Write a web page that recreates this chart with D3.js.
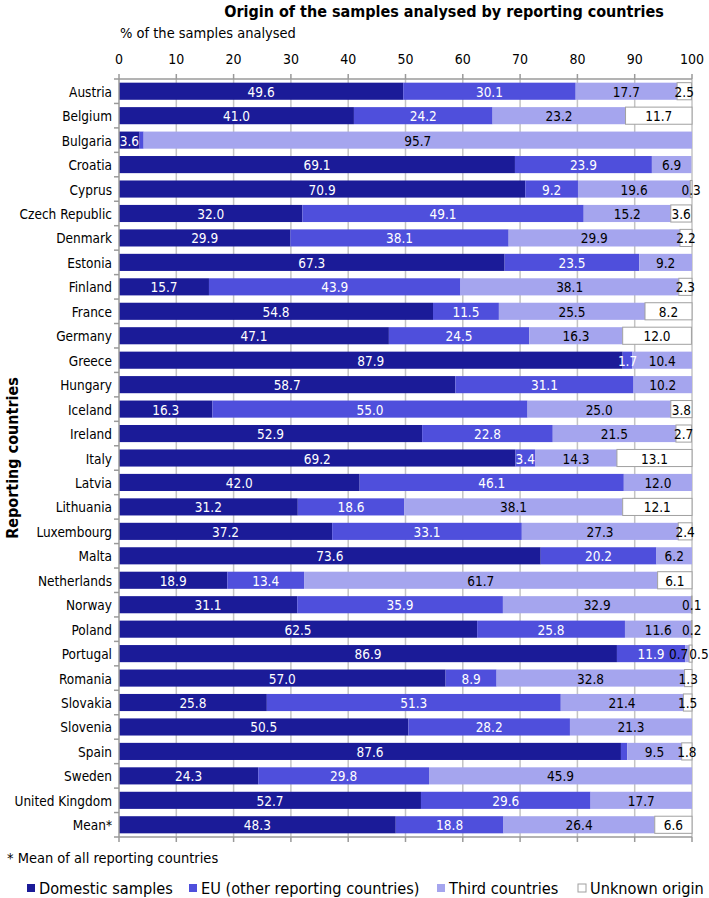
<!DOCTYPE html>
<html>
<head>
<meta charset="utf-8">
<script src="https://cdn.jsdelivr.net/npm/d3@7"></script>
<style>
  html, body { margin: 0; padding: 0; background: #fff; }
  svg { display: block; }
  text { font-family: "DejaVu Sans Condensed", "DejaVu Sans", sans-serif; font-stretch: condensed; }
</style>
</head>
<body>
<svg id="chart" width="709" height="898"></svg>
<script>
const countries = ["Austria","Belgium","Bulgaria","Croatia","Cyprus","Czech Republic","Denmark","Estonia","Finland","France","Germany","Greece","Hungary","Iceland","Ireland","Italy","Latvia","Lithuania","Luxembourg","Malta","Netherlands","Norway","Poland","Portugal","Romania","Slovakia","Slovenia","Spain","Sweden","United Kingdom","Mean*"];
const domestic = [49.6,41.0,3.6,69.1,70.9,32.0,29.9,67.3,15.7,54.8,47.1,87.9,58.7,16.3,52.9,69.2,42.0,31.2,37.2,73.6,18.9,31.1,62.5,86.9,57.0,25.8,50.5,87.6,24.3,52.7,48.3];
const eu       = [30.1,24.2,0.7,23.9,9.2,49.1,38.1,23.5,43.9,11.5,24.5,1.7,31.1,55.0,22.8,3.4,46.1,18.6,33.1,20.2,13.4,35.9,25.8,11.9,8.9,51.3,28.2,1.1,29.8,29.6,18.8];
const third    = [17.7,23.2,95.7,6.9,19.6,15.2,29.9,9.2,38.1,25.5,16.3,10.4,10.2,25.0,21.5,14.3,12.0,38.1,27.3,6.2,61.7,32.9,11.6,0.7,32.8,21.4,21.3,9.5,45.9,17.7,26.4];
const unknown  = [2.5,11.7,0,0,0.3,3.6,2.2,0,2.3,8.2,12.0,0,0,3.8,2.7,13.1,0,12.1,2.4,0,6.1,0.1,0.2,0.5,1.3,1.5,0,1.8,0,0,6.6];
const seriesNames = ["Domestic samples","EU (other reporting countries)","Third countries","Unknown origin"];
const seriesKeys = ["domestic","eu","third","unknown"];
const unlabelled = [["Bulgaria","eu"],["Spain","eu"]];
const xTicks = [0,10,20,30,40,50,60,70,80,90,100];
const title = "Origin of the samples analysed by reporting countries";
const xTitle = "% of the samples analysed";
const yTitle = "Reporting countries";
const footnote = "* Mean of all reporting countries";

const colors = {domestic:"#1b1b98", eu:"#4f4fdc", third:"#a5a5ee", unknown:"#ffffff"};
const labelColors = {domestic:"#ffffff", eu:"#ffffff", third:"#000000", unknown:"#000000"};

const rows = countries.map((c,i)=>({country:c, domestic:domestic[i], eu:eu[i], third:third[i], unknown:unknown[i]}));

const svg = d3.select("#chart");
const L = 119, R = 692, T = 79, B = 837;
const x = d3.scaleLinear().domain([0,100]).range([L,R]);
const y = d3.scaleBand().domain(countries).range([T,B]).paddingInner(0.3).paddingOuter(0.15);

// gridlines
svg.append("g").selectAll("line").data(xTicks.slice(1)).join("line")
  .attr("x1",d=>x(d)).attr("x2",d=>x(d)).attr("y1",T).attr("y2",B)
  .attr("stroke","#c4c4c4").attr("stroke-width",1.5);

// bars
const stack = d3.stack().keys(seriesKeys)(rows);
const g = svg.append("g");
stack.forEach(layer=>{
  const key = layer.key;
  g.append("g").selectAll("rect").data(layer.filter(d=>d[1]-d[0]>0)).join("rect")
    .attr("x",d=>x(d[0])).attr("width",d=>Math.min(x(d[1]),R)-x(d[0]))
    .attr("y",d=>y(d.data.country)).attr("height",y.bandwidth())
    .attr("fill",colors[key])
    .attr("stroke", key==="unknown" ? "#a0a0a0" : "none").attr("stroke-width",1);
});

// labels with overlap resolution per row
const labG = svg.append("g").attr("font-size","13.5px");
rows.forEach((r,i)=>{
  const items = [];
  seriesKeys.forEach((k,ki)=>{
    const v = r[k];
    if(!(v>0)) return;
    if(unlabelled.some(u=>u[0]===r.country && u[1]===k)) return;
    const s = stack[ki][i];
    const t = labG.append("text").text(v.toFixed(1))
      .attr("text-anchor","middle").attr("dominant-baseline","central")
      .attr("y", y(r.country)+y.bandwidth()/2+0.5)
      .attr("fill", labelColors[k]);
    const w = t.node().getComputedTextLength();
    items.push({t, cx:(x(s[0])+x(Math.min(s[1],100)))/2, w});
  });
  for(let it=0; it<20; it++){
    let moved=false;
    for(let j=0;j<items.length-1;j++){
      const a=items[j], b=items[j+1];
      const need=(a.w+b.w)/2+1, have=b.cx-a.cx;
      if(have<need){ const d=(need-have)/2; a.cx-=d; b.cx+=d; moved=true; }
    }
    if(!moved) break;
  }
  items.forEach(o=>o.t.attr("x",o.cx));
});

// axes lines
const axisColor = "#9a9a9a";
svg.append("line").attr("x1",L).attr("x2",R).attr("y1",T).attr("y2",T).attr("stroke",axisColor).attr("stroke-width",1.5);
svg.append("line").attr("x1",L).attr("x2",R).attr("y1",B).attr("y2",B).attr("stroke",axisColor).attr("stroke-width",1.5);
svg.append("line").attr("x1",L).attr("x2",L).attr("y1",T).attr("y2",B).attr("stroke",axisColor).attr("stroke-width",1.5);
svg.append("g").selectAll("line").data(xTicks).join("line")
  .attr("x1",d=>x(d)).attr("x2",d=>x(d)).attr("y1",T-5).attr("y2",T).attr("stroke",axisColor).attr("stroke-width",1.5);
svg.append("g").selectAll("line").data(xTicks).join("line")
  .attr("x1",d=>x(d)).attr("x2",d=>x(d)).attr("y1",B).attr("y2",B+5).attr("stroke",axisColor).attr("stroke-width",1.5);
// y boundary ticks
const bounds = countries.map(c=>y(c)-y.step()*y.paddingInner()/2).concat([B]);
svg.append("g").selectAll("line").data(bounds).join("line")
  .attr("x1",L-5).attr("x2",L).attr("y1",d=>d).attr("y2",d=>d).attr("stroke",axisColor).attr("stroke-width",1.5);

// x tick labels
svg.append("g").selectAll("text").data(xTicks).join("text")
  .attr("x",d=>x(d)).attr("y",59).attr("dominant-baseline","central").attr("text-anchor","middle")
  .attr("font-size","14px").attr("fill","#000").text(d=>d);

// category labels
svg.append("g").selectAll("text").data(countries).join("text")
  .attr("x",L-7).attr("y",d=>y(d)+y.bandwidth()/2+0.5).attr("dominant-baseline","central").attr("text-anchor","end")
  .attr("font-size","13.5px").attr("fill","#000").text(d=>d);

// titles
svg.append("text").attr("x",444).attr("y",11).attr("text-anchor","middle").attr("dominant-baseline","central")
  .attr("font-size","16px").attr("font-weight","bold").text(title);
svg.append("text").attr("x",120).attr("y",33).attr("dominant-baseline","central")
  .attr("font-size","14.5px").text(xTitle);
svg.append("text").attr("transform",`translate(12,${(T+B)/2}) rotate(-90)`).attr("text-anchor","middle").attr("dominant-baseline","central")
  .attr("font-size","16px").attr("font-weight","bold").text(yTitle);
svg.append("text").attr("x",7).attr("y",858).attr("dominant-baseline","central")
  .attr("font-size","14.5px").text(footnote);

// legend
const legX = [27, 189, 437, 578];
const leg = svg.append("g");
seriesKeys.forEach((k,i)=>{
  leg.append("rect").attr("x",legX[i]).attr("y",884).attr("width",8).attr("height",8)
    .attr("fill",colors[k]).attr("stroke",k==="unknown"?"#a0a0a0":"none");
  leg.append("text").attr("x",legX[i]+12).attr("y",888).attr("dominant-baseline","central")
    .attr("font-size","16.2px").text(seriesNames[i]);
});
</script>
</body>
</html>
